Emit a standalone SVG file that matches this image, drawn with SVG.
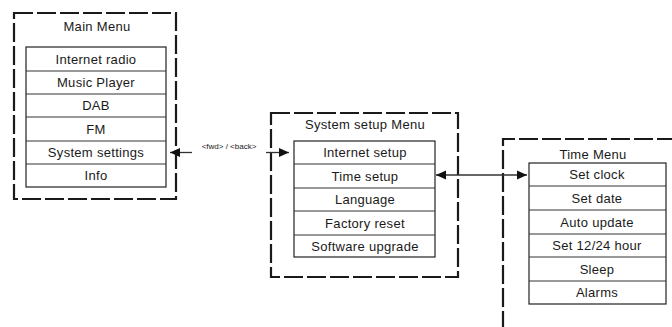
<svg xmlns="http://www.w3.org/2000/svg" width="672" height="327" viewBox="0 0 672 327">
<style>
.frame{fill:none;stroke:#1a1a1a;stroke-width:2.2;stroke-dasharray:19 4}
.box{fill:#fff;stroke:#222;stroke-width:1.2}
.sep{stroke:#333;stroke-width:1}
.t{font-family:"Liberation Sans",Arial,sans-serif;font-size:13px;fill:#1a1a1a;text-anchor:middle;letter-spacing:0.3px}
.s{font-family:"Liberation Sans",Arial,sans-serif;font-size:8px;fill:#1a1a1a;text-anchor:middle}
.ln{stroke:#333;stroke-width:1.3;fill:none}
</style>
<defs>
<marker id="ah" viewBox="0 0 10 10" refX="10" refY="5" markerWidth="10" markerHeight="10" markerUnits="userSpaceOnUse" orient="auto-start-reverse">
<path d="M0,0.5 L10,5 L0,9.5 Z" fill="#111"/>
</marker>
</defs>
<rect width="672" height="327" fill="#fff"/>

<g id="main-menu">
<rect class="frame" x="14" y="13" width="162" height="186"/>
<text class="t" x="97" y="30.5">Main Menu</text>
<rect class="box" x="26" y="47" width="140" height="140"/>
<line class="sep" x1="26" y1="71" x2="166" y2="71"/>
<line class="sep" x1="26" y1="94" x2="166" y2="94"/>
<line class="sep" x1="26" y1="117" x2="166" y2="117"/>
<line class="sep" x1="26" y1="141" x2="166" y2="141"/>
<line class="sep" x1="26" y1="164" x2="166" y2="164"/>
<text class="t" x="96" y="63.5">Internet radio</text>
<text class="t" x="96" y="87">Music Player</text>
<text class="t" x="96" y="110">DAB</text>
<text class="t" x="96" y="133.5">FM</text>
<text class="t" x="96" y="157">System settings</text>
<text class="t" x="96" y="180">Info</text>
</g>

<g id="system-setup-menu">
<rect class="frame" x="271" y="113" width="187" height="164"/>
<text class="t" x="365" y="128.5">System setup Menu</text>
<rect class="box" x="294" y="141" width="141" height="116"/>
<line class="sep" x1="294" y1="164" x2="435" y2="164"/>
<line class="sep" x1="294" y1="188" x2="435" y2="188"/>
<line class="sep" x1="294" y1="211" x2="435" y2="211"/>
<line class="sep" x1="294" y1="235" x2="435" y2="235"/>
<text class="t" x="365" y="157">Internet setup</text>
<text class="t" x="365" y="180.5">Time setup</text>
<text class="t" x="365" y="204">Language</text>
<text class="t" x="365" y="227.5">Factory reset</text>
<text class="t" x="365" y="250.5">Software upgrade</text>
</g>

<g id="time-menu">
<path class="frame" d="M503,330 L503,139 L675,139"/>
<text class="t" x="593" y="158.5">Time Menu</text>
<rect class="box" x="529" y="163" width="137" height="141"/>
<line class="sep" x1="529" y1="186" x2="666" y2="186"/>
<line class="sep" x1="529" y1="210" x2="666" y2="210"/>
<line class="sep" x1="529" y1="234" x2="666" y2="234"/>
<line class="sep" x1="529" y1="257" x2="666" y2="257"/>
<line class="sep" x1="529" y1="281" x2="666" y2="281"/>
<text class="t" x="597" y="179">Set clock</text>
<text class="t" x="597" y="202.5">Set date</text>
<text class="t" x="597" y="226.5">Auto update</text>
<text class="t" x="597" y="250">Set 12/24 hour</text>
<text class="t" x="597" y="273.5">Sleep</text>
<text class="t" x="597" y="297">Alarms</text>
</g>

<g id="connectors">
<line class="ln" x1="192" y1="152.5" x2="170" y2="152.5" marker-end="url(#ah)"/>
<text class="s" x="229" y="149">&lt;fwd&gt; / &lt;back&gt;</text>
<line class="ln" x1="266" y1="152.5" x2="289" y2="152.5" marker-end="url(#ah)"/>
<line class="ln" x1="436" y1="175" x2="527" y2="175" marker-start="url(#ah)" marker-end="url(#ah)"/>
</g>
</svg>
